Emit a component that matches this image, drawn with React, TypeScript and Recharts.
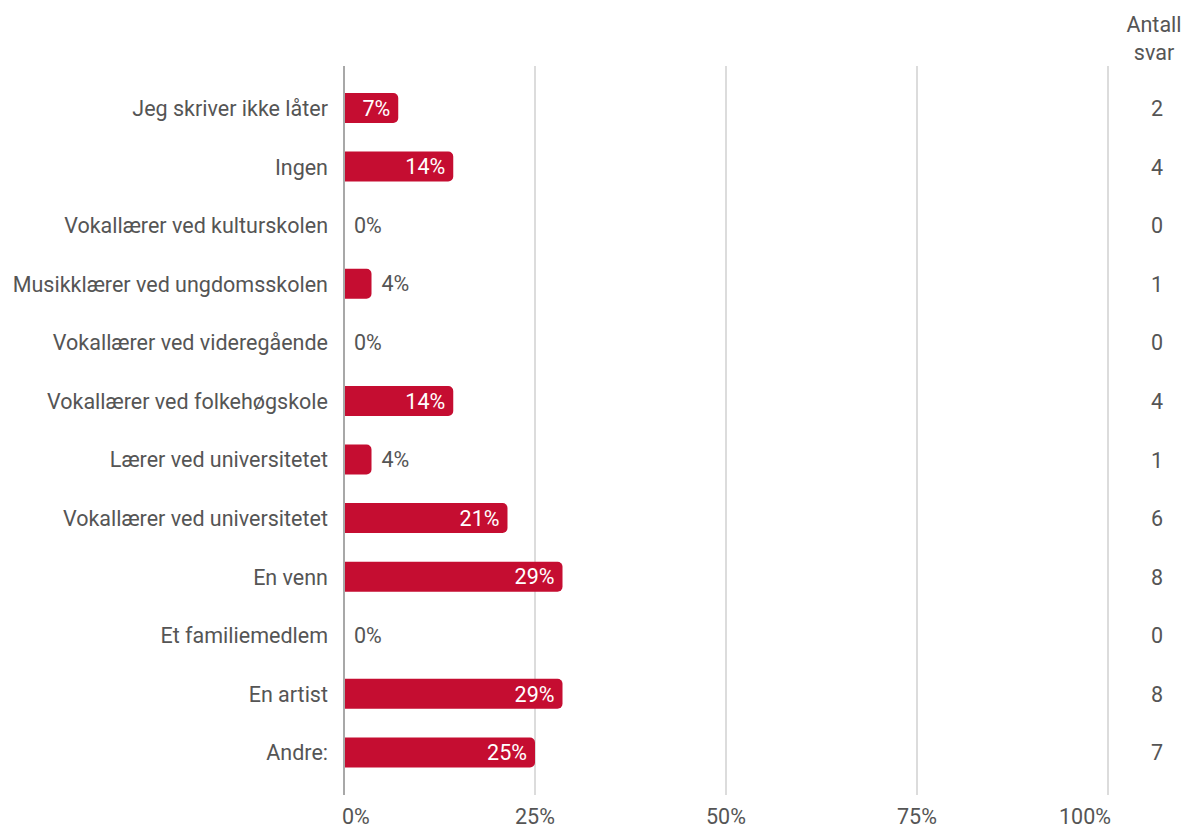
import { BarChart, Bar, XAxis, YAxis, CartesianGrid, LabelList } from "recharts";

const categories = [
  "Jeg skriver ikke låter",
  "Ingen",
  "Vokallærer ved kulturskolen",
  "Musikklærer ved ungdomsskolen",
  "Vokallærer ved videregående",
  "Vokallærer ved folkehøgskole",
  "Lærer ved universitetet",
  "Vokallærer ved universitetet",
  "En venn",
  "Et familiemedlem",
  "En artist",
  "Andre:",
];

const percents = [7.1, 14.3, 0, 3.6, 0, 14.3, 3.6, 21.4, 28.6, 0, 28.6, 25];

const counts = [2, 4, 0, 1, 0, 4, 1, 6, 8, 0, 8, 7];

const xTicks = [0, 25, 50, 75, 100];

const chartData = categories.map((name, i) => ({
  name,
  pct: percents[i],
  count: counts[i],
}));

const FONT = "Roboto, sans-serif";
const FS = 21.5;
const TEXT = "#555";
const RED = "#c50d31";

function BarValue(props: any) {
  const { x, y, width, height, value } = props;
  const text = Math.round(value) + "%";
  const cy = y + height / 2;
  if (value >= 7) {
    return (
      <text x={x + width - 8} y={cy} dy="0.36em" textAnchor="end" fill="#fff" fontSize={FS} fontFamily={FONT}>
        {text}
      </text>
    );
  }
  return (
    <text x={x + width + 10} y={cy} dy="0.36em" textAnchor="start" fill={TEXT} fontSize={FS} fontFamily={FONT}>
      {text}
    </text>
  );
}

function XTick(props: any) {
  const { x, y, payload } = props;
  const v = payload.value;
  const anchor = v === 0 ? "start" : v === 100 ? "end" : "middle";
  const dx = v === 0 ? -2 : v === 100 ? 3 : 0;
  return (
    <text x={x + dx} y={y} dy="0.71em" textAnchor={anchor} fill={TEXT} fontSize={FS} fontFamily={FONT}>
      {v}%
    </text>
  );
}

function CountTick(props: any) {
  const { y, payload, index } = props;
  return (
    <text x={1157} y={y} dy="0.36em" textAnchor="middle" fill={TEXT} fontSize={FS} fontFamily={FONT}>
      {counts[index] ?? payload.value}
    </text>
  );
}

export default function App() {
  return (
    <div style={{ position: "absolute", left: 0, top: 0, width: 1182, height: 828, background: "#fff", overflow: "hidden" }}>
      <div
        style={{
          position: "absolute",
          left: 1104,
          top: 11,
          width: 100,
          textAlign: "center",
          fontFamily: FONT,
          fontSize: FS,
          lineHeight: "28px",
          color: TEXT,
        }}
      >
        Antall
        <br />
        svar
      </div>
      <BarChart
        width={1182}
        height={828}
        data={chartData}
        layout="vertical"
        margin={{ top: 66, right: 0, bottom: 3, left: 0 }}
      >
        <CartesianGrid horizontal={false} stroke="#d0d0d0" strokeWidth={1.5} />
        <XAxis
          type="number"
          domain={[0, 100]}
          ticks={xTicks}
          axisLine={false}
          tickLine={false}
          tick={<XTick />}
          tickMargin={8}
        />
        <YAxis
          yAxisId="left"
          type="category"
          dataKey="name"
          width={344}
          padding={{ top: 13, bottom: 13 }}
          axisLine={{ stroke: "#a8a8a8", strokeWidth: 2 }}
          tickLine={false}
          tickMargin={10}
          interval={0}
          tick={{ fill: TEXT, fontSize: FS, fontFamily: FONT }}
        />
        <YAxis
          yAxisId="right"
          orientation="right"
          type="category"
          dataKey="name"
          width={74}
          padding={{ top: 13, bottom: 13 }}
          axisLine={false}
          tickLine={false}
          interval={0}
          tick={<CountTick />}
        />
        <Bar
          yAxisId="left"
          dataKey="pct"
          fill={RED}
          barSize={30}
          radius={[0, 5, 5, 0]}
          minPointSize={(v: number) => (v === 0 ? 0.01 : 0)}
          isAnimationActive={false}
        >
          <LabelList dataKey="pct" content={<BarValue />} />
        </Bar>
      </BarChart>
    </div>
  );
}
